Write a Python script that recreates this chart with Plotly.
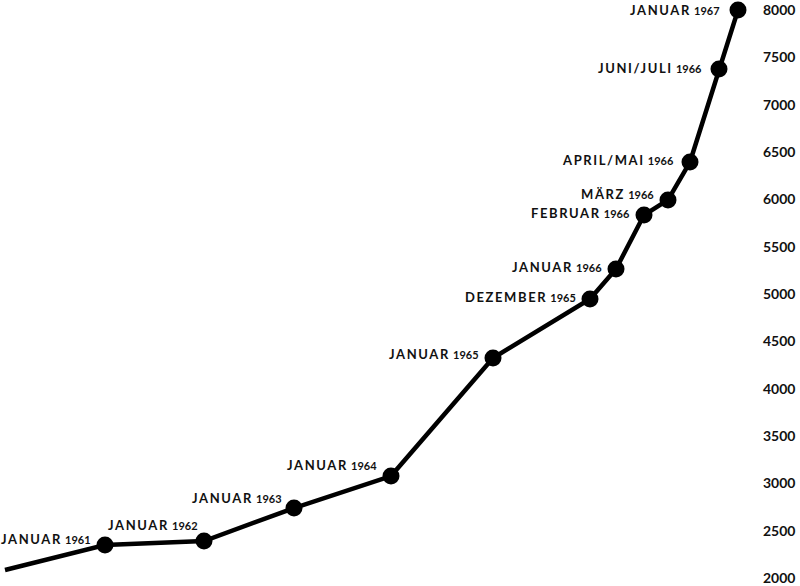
import plotly.graph_objects as go

# data
labels = ["", "JANUAR|1961", "JANUAR|1962", "JANUAR|1963", "JANUAR|1964", "JANUAR|1965",
          "DEZEMBER|1965", "JANUAR|1966", "FEBRUAR|1966", "MÄRZ|1966",
          "APRIL/MAI|1966", "JUNI/JULI|1966", "JANUAR|1967"]
x_pos = [5, 105, 204, 294, 391, 493, 590, 616, 644, 668, 690, 719, 738]
values = [2085, 2349, 2391, 2739, 3077, 4324, 4947, 5264, 5834, 5993, 6394, 7377, 8000]
y_ticks = [2000, 2500, 3000, 3500, 4000, 4500, 5000, 5500, 6000, 6500, 7000, 7500, 8000]

# label offsets (style)
shifts = [None, (-12, 6), (-4, 16), (-10, 10), (-12, 11), (-12, 4), (-12, 2),
          (-12, 2), (-12, 2), (-12, 6), (-14, 2), (-15, 1), (-16, 0)]

fig = go.Figure()
fig.add_trace(go.Scatter(x=x_pos, y=values, mode="lines", cliponaxis=False,
                         line=dict(color="black", width=4.5), hoverinfo="skip"))
fig.add_trace(go.Scatter(x=x_pos[1:], y=values[1:], mode="markers", cliponaxis=False,
                         marker=dict(color="black", size=17), hoverinfo="skip"))

for lab, xv, yv, sh in zip(labels, x_pos, values, shifts):
    if not lab:
        continue
    word, year = lab.split("|")
    fig.add_annotation(x=xv, y=yv, xanchor="right", yanchor="middle",
                       xshift=sh[0], yshift=sh[1], showarrow=False,
                       text=(f"<span style='letter-spacing:1.6px'>{word}</span> "
                             f"<span style='font-size:11px'>{year}</span>"),
                       font=dict(family="Lato", size=13, color="#111", weight="bold"))

fig.update_layout(
    width=800, height=586, margin=dict(l=0, r=55, t=10, b=8, autoexpand=False),
    paper_bgcolor="white", plot_bgcolor="white", showlegend=False,
    xaxis=dict(range=[0, 745], visible=False),
    yaxis=dict(range=[2000, 8000], side="right", tickvals=y_ticks,
               ticktext=[str(v) for v in y_ticks], showgrid=False, zeroline=False,
               showline=False, ticks="", ticklabelstandoff=17, automargin=False,
               tickfont=dict(family="Lato", size=14, color="#111", weight="bold")),
)
fig.write_html("out.html", config={"displayModeBar": False},
               post_script="document.body.style.margin='0px';document.body.style.overflow='hidden';")
